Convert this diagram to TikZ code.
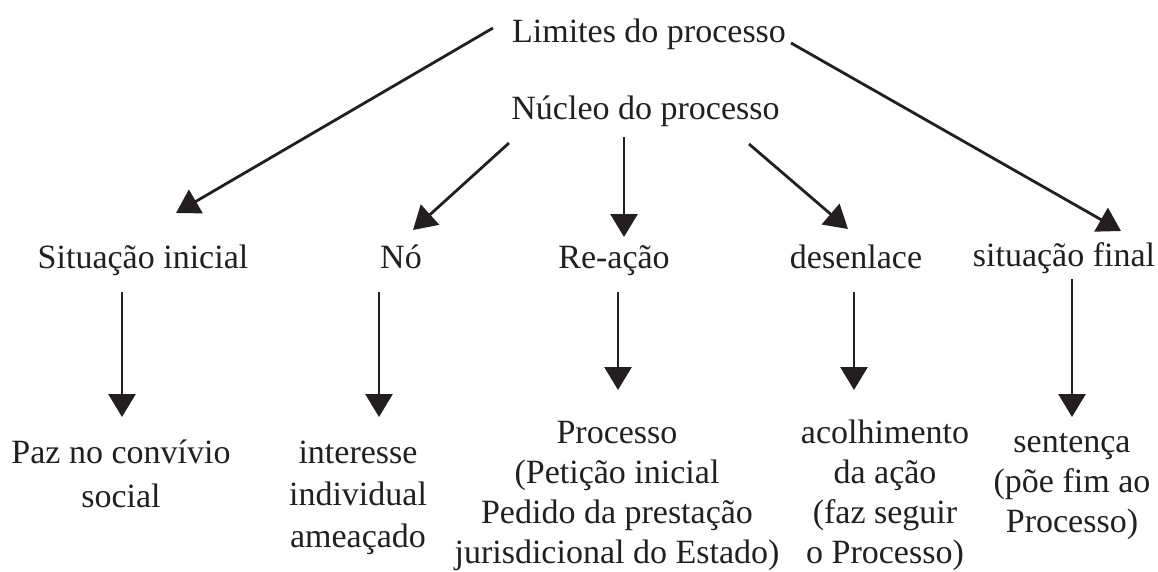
\documentclass[tikz,border=0pt]{standalone}
\usepackage{fontspec}
\setmainfont{Liberation Serif}
\usetikzlibrary{arrows.meta,calc}
\definecolor{ink}{RGB}{35,31,32}
\begin{document}
\begin{tikzpicture}[x=1pt,y=-1pt,
  lbl/.style={inner sep=0pt, anchor=base, align=center, text=ink, font=\fontsize{34}{40}\selectfont},
  arr/.style={draw=ink, line width=2.8pt, -{Triangle[width=27pt,length=23pt]}}]
\useasboundingbox[fill=white] (0,0) rectangle (1158,571);
% top
\node[lbl] (lim) at (649,42) {Limites do processo};
\node[lbl] (nuc) at (645.5,119) {Núcleo do processo};
% middle row
\node[lbl] (sit) at (143,268) {Situação inicial};
\node[lbl] (no)  at (401,268) {Nó};
\node[lbl] (rea) at (614,268) {Re-ação};
\node[lbl] (des) at (856,268) {desenlace};
\node[lbl] (fin) at (1064,266) {situação final};
% bottom row (base anchor = baseline of the last line)
\node[lbl, font=\fontsize{34}{44}\selectfont] (paz) at (121,507) {Paz no convívio\\social};
\node[lbl, font=\fontsize{34}{42}\selectfont] (int) at (358,547) {interesse\\individual\\ameaçado};
\node[lbl] (pro) at (617,563) {Processo\\(Petição inicial\\Pedido da prestação\\jurisdicional do Estado)};
\node[lbl] (aco) at (885,563) {acolhimento\\da ação\\(faz seguir\\o Processo)};
\node[lbl] (sen) at (1072,532) {sentença\\(põe fim ao\\Processo)};
% arrows from top
\draw[arr] ($(lim.base)+(-156,-14)$) -- ($(sit.base)+(33,-55)$);
\draw[arr] ($(lim.base)+(142,1)$) -- ($(fin.base)+(57,-35)$);
\draw[arr] ($(nuc.base)+(-136.5,24)$) -- ($(no.base)+(12,-38)$);
\draw[arr] ($(nuc.base)+(-21.5,18)$) -- ($(rea.base)+(10,-31)$);
\draw[arr] ($(nuc.base)+(103.5,25)$) -- ($(des.base)+(-8,-39)$);
% vertical arrows
\draw[arr] ($(sit.base)+(-21,24)$) -- ($(paz.base)+(1,-90)$);
\draw[arr] ($(no.base)+(-22,24)$) -- ($(int.base)+(21,-130)$);
\draw[arr] ($(rea.base)+(4,24)$) -- ($(pro.base)+(1,-173)$);
\draw[arr] ($(des.base)+(-2,24)$) -- ($(aco.base)+(-31,-173)$);
\draw[arr] ($(fin.base)+(8,13)$) -- ($(sen.base)+(0,-115)$);
\end{tikzpicture}
\end{document}
